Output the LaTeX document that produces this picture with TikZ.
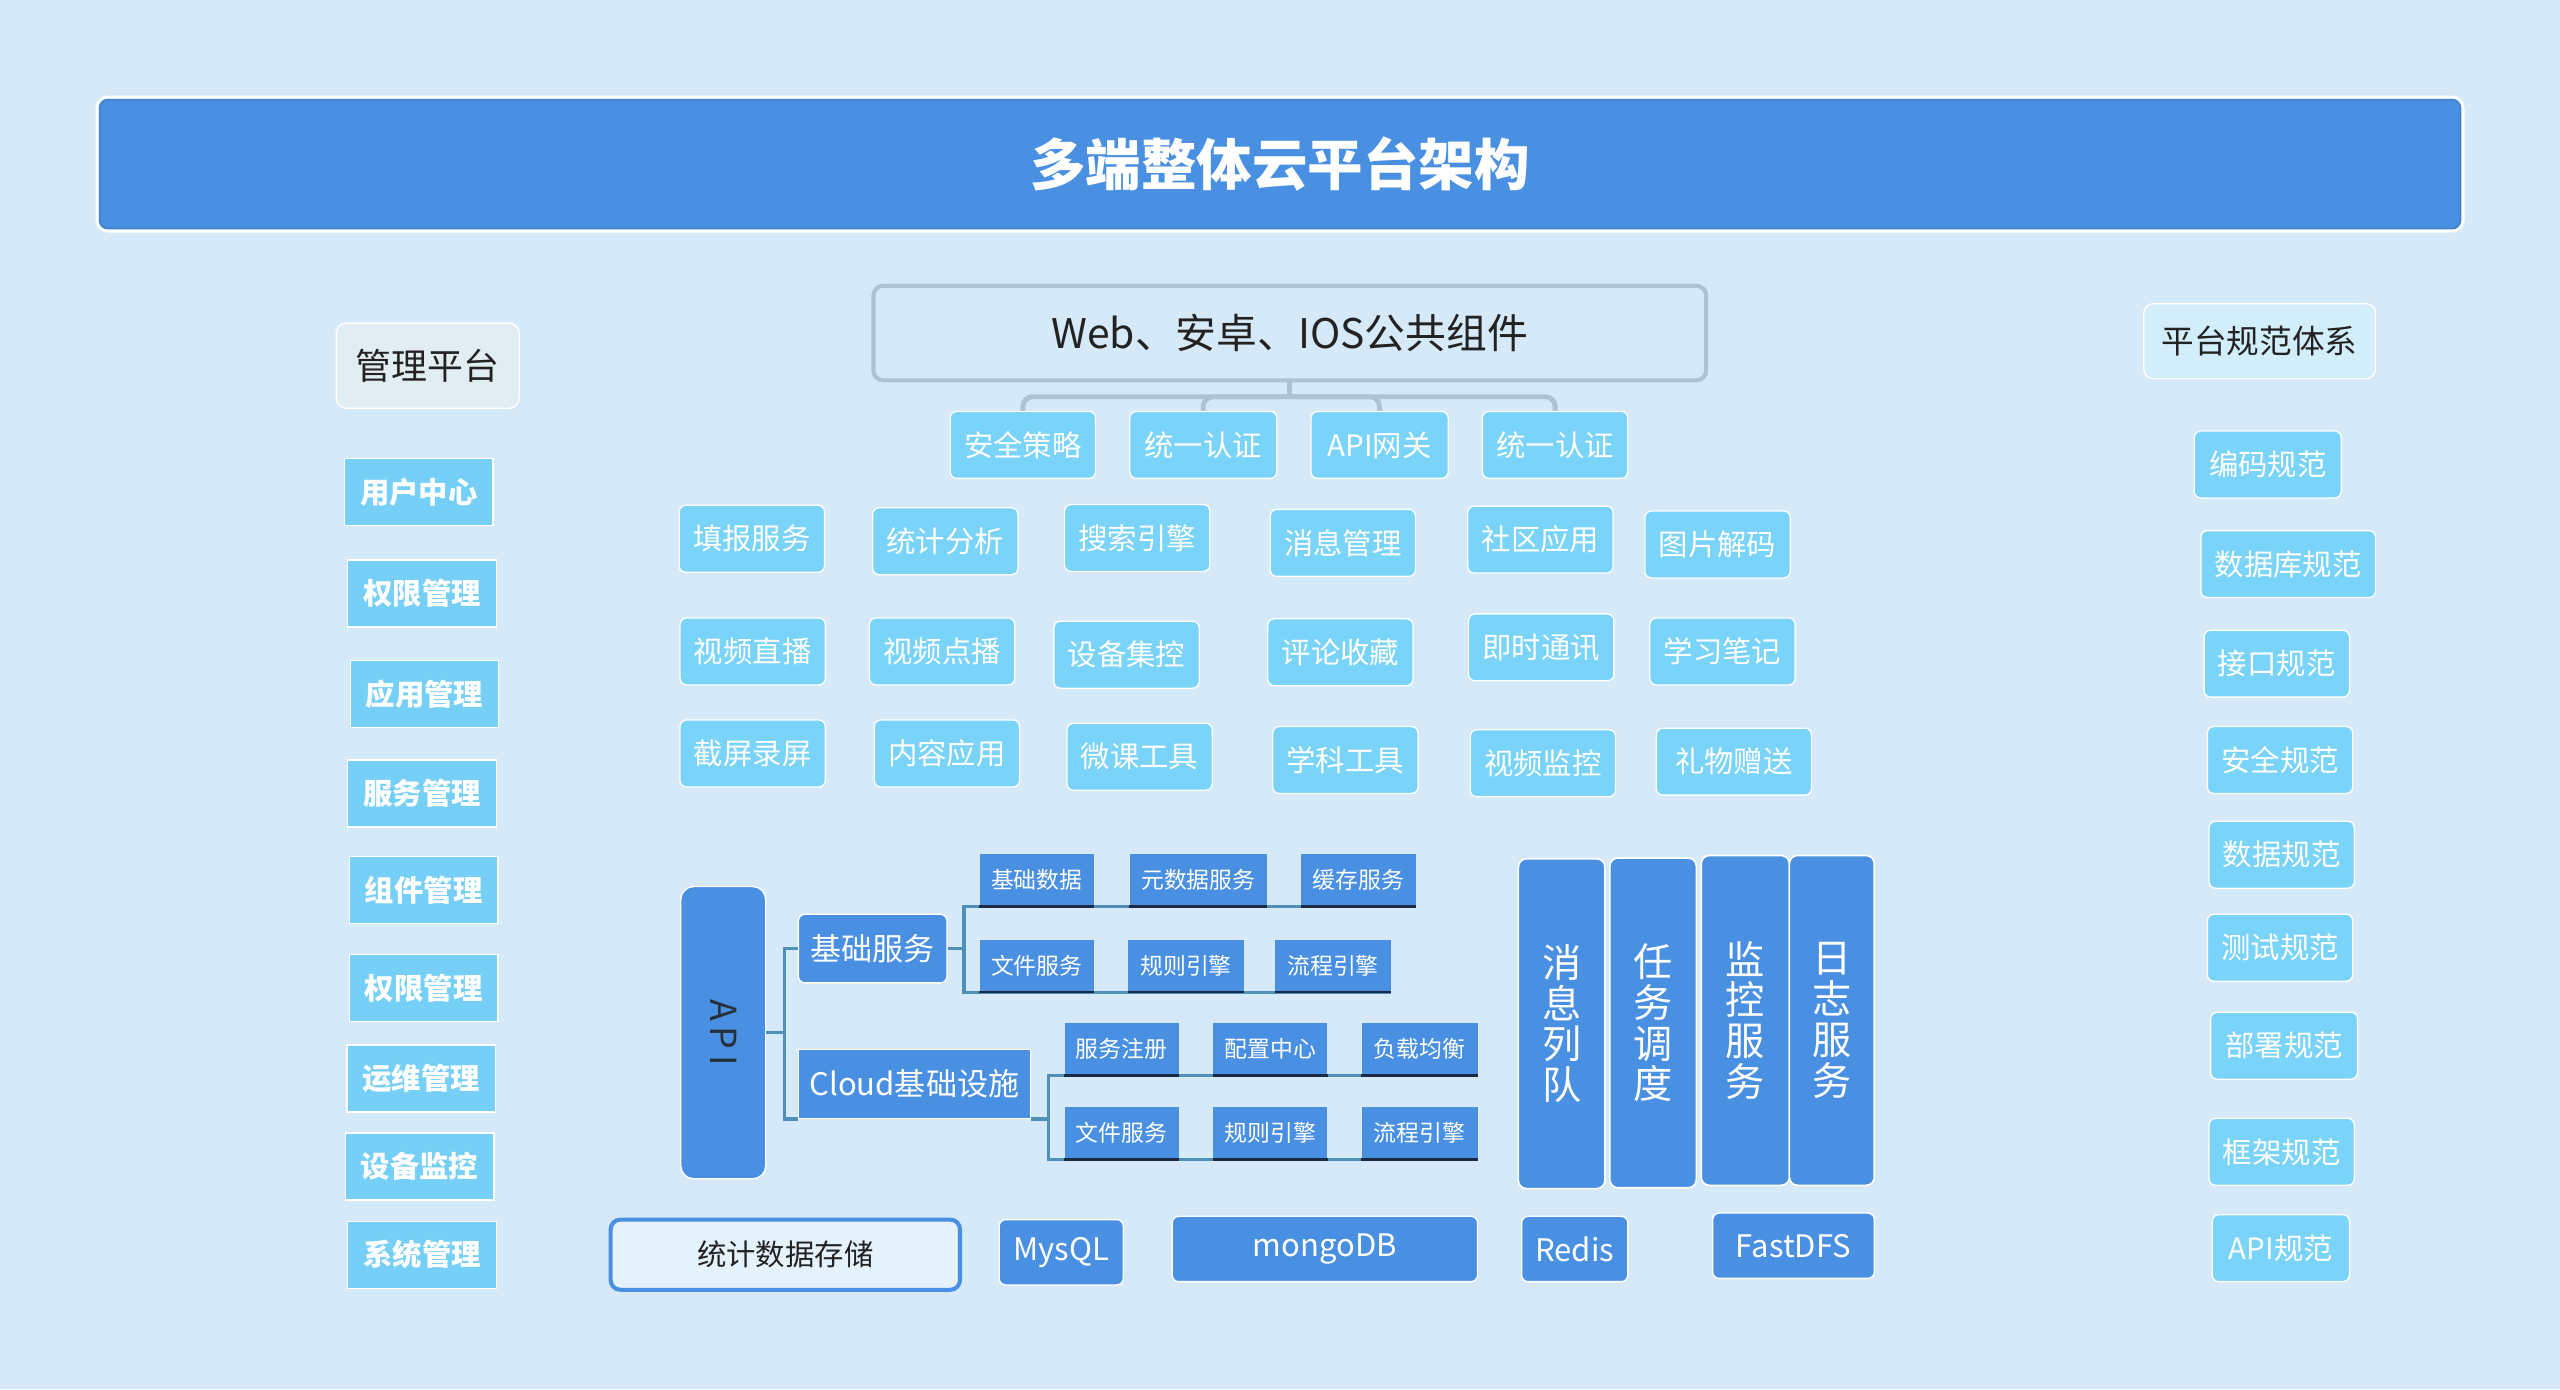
\documentclass[tikz,border=0pt]{standalone}
\usepackage{fontspec}
\setmainfont{Noto Sans CJK SC}
\usepackage{tikz}

\definecolor{bgcol}{HTML}{D6E9F8}
\definecolor{mainblue}{HTML}{4A90E2}
\definecolor{edgeblue}{HTML}{3F80CC}
\definecolor{cyanfill}{HTML}{7AD3F8}
\definecolor{leftfill}{HTML}{76CFF6}
\definecolor{linkcol}{HTML}{5090B8}
\definecolor{treecol}{HTML}{AEC2D2}
\definecolor{grayfill}{HTML}{E2EDF2}
\definecolor{specfill}{HTML}{D3EEFB}
\definecolor{inkcol}{HTML}{222222}
\definecolor{apiink}{HTML}{26303C}
\definecolor{navyline}{HTML}{1B2A44}

\tikzset{
  titlebar/.style={fill=mainblue, draw=edgeblue, line width=1pt, rounded corners=5pt,
    text=white, font=\fontsize{34}{40}\selectfont\bfseries,
    minimum width=1446pt, minimum height=79pt},
  headbox/.style={draw=white, line width=0.8pt, rounded corners=6pt, text=inkcol, inner sep=0pt},
  cyanbox/.style={fill=cyanfill, draw=white, line width=0.8pt, rounded corners=4pt,
    text=white, font=\fontsize{18}{20}\selectfont,
    minimum width=89pt, minimum height=41pt, inner sep=0pt},
  leftbox/.style={fill=leftfill, draw=white, line width=0.8pt,
    text=white, font=\fontsize{18}{20}\selectfont\bfseries,
    minimum width=91pt, minimum height=41pt, inner sep=0pt},
  bluebox/.style={fill=mainblue, draw=white, line width=0.8pt, rounded corners=4pt,
    text=white, font=\fontsize{19}{21}\selectfont, inner sep=0pt},
  smallbox/.style={fill=mainblue, text=white, font=\fontsize{14}{16}\selectfont,
    minimum width=70pt, minimum height=32pt, inner sep=0pt},
  colbox/.style={fill=mainblue, draw=white, line width=1pt, rounded corners=5pt,
    text=white, align=center, font=\fontsize{24}{25}\selectfont,
    minimum width=53pt, minimum height=202pt, inner sep=0pt},
  webbox/.style={draw=treecol, line width=2.5pt, rounded corners=6pt, text=inkcol,
    font=\fontsize{25}{29}\selectfont, minimum width=510pt, minimum height=58pt},
  storebox/.style={fill=bgcol!60!white, draw=mainblue, line width=2.5pt, rounded corners=6pt,
    text=inkcol, font=\fontsize{18}{20}\selectfont,
    minimum width=214pt, minimum height=43pt},
  treelink/.style={draw=treecol, line width=3pt, rounded corners=6pt},
  link/.style={draw=linkcol, line width=2pt},
  boxline/.style={draw=navyline, line width=1.5pt},
}

\begin{document}
\begin{tikzpicture}[x=1pt, y=-1pt]
  \fill[bgcol] (0,0) rectangle (1568,851);
  \useasboundingbox (0,0) rectangle (1568,851);

  % title
  \draw[white, line width=3pt, rounded corners=6pt] (60,60) rectangle (1508,141);
  \node[titlebar] (title) at (784,100.5) {多端整体云平台架构};

  % management platform
  \node[headbox, fill=grayfill, minimum width=112pt, minimum height=52pt,
    font=\fontsize{22}{24}\selectfont] (mgmt) at (262,224) {管理平台};
  \node[leftbox] (m1) at (256.5,301.5) {用户中心};
  \node[leftbox] (m2) at (258.5,363.5) {权限管理};
  \node[leftbox] (m3) at (260,425) {应用管理};
  \node[leftbox] (m4) at (258.5,486) {服务管理};
  \node[leftbox] (m5) at (259.5,545) {组件管理};
  \node[leftbox] (m6) at (259.5,605) {权限管理};
  \node[leftbox] (m7) at (258,660.5) {运维管理};
  \node[leftbox] (m8) at (257,714.5) {设备监控};
  \node[leftbox] (m9) at (258.5,768.5) {系统管理};

  % common components
  \node[webbox] (web) at (790,204) {Web、安卓、IOS公共组件};
  \node[cyanbox] (c1) at (626.5,272.5) {安全策略};
  \node[cyanbox, minimum width=90pt] (c2) at (737,272.5) {统一认证};
  \node[cyanbox, minimum width=84pt] (c3) at (845,272.5) {API网关};
  \node[cyanbox] (c4) at (952.5,272.5) {统一认证};
  \coordinate (hub) at (790,243);
  \draw[treelink] (web.south) -- (hub);
  \foreach \n in {c1,c2,c3,c4}
    \draw[treelink] (hub) -| (\n.north);

  \node[cyanbox] (a1) at (460.5,330) {填报服务};
  \node[cyanbox] (a2) at (579,331.5) {统计分析};
  \node[cyanbox] (a3) at (696.5,329.5) {搜索引擎};
  \node[cyanbox] (a4) at (822.5,332.5) {消息管理};
  \node[cyanbox] (a5) at (943.5,330.5) {社区应用};
  \node[cyanbox] (a6) at (1052,333.5) {图片解码};

  \node[cyanbox] (b1) at (461,399) {视频直播};
  \node[cyanbox] (b2) at (577,399) {视频点播};
  \node[cyanbox] (b3) at (690,401) {设备集控};
  \node[cyanbox] (b4) at (821,399.5) {评论收藏};
  \node[cyanbox] (b5) at (944,396.5) {即时通讯};
  \node[cyanbox] (b6) at (1055,399) {学习笔记};

  \node[cyanbox] (d1) at (461,461.5) {截屏录屏};
  \node[cyanbox] (d2) at (580,461.5) {内容应用};
  \node[cyanbox] (d3) at (698,463.5) {微课工具};
  \node[cyanbox] (d4) at (824,465.5) {学科工具};
  \node[cyanbox] (d5) at (945,467.5) {视频监控};
  \node[cyanbox, minimum width=95pt] (d6) at (1062,466.5) {礼物赠送};

  % api and services
  \node[bluebox, rounded corners=8pt, minimum width=52pt, minimum height=179pt] (api) at (443,632.5) {};
  \node[rotate=-90, text=apiink, font=\fontsize{22}{24}\selectfont] (apitext) at (api.center) {A\,P\,I};
  \node[bluebox, minimum width=91pt, minimum height=42pt] (basic) at (534.5,581) {基础服务};
  \node[bluebox, sharp corners, minimum width=142pt, minimum height=42pt] (cloud) at (560,664) {Cloud基础设施};

  \node[smallbox] (ba1) at (635,539) {基础数据};
  \node[smallbox, minimum width=84pt] (ba2) at (734,539) {元数据服务};
  \node[smallbox] (ba3) at (832,539) {缓存服务};
  \node[smallbox] (bb1) at (635,591.5) {文件服务};
  \node[smallbox, minimum width=71pt] (bb2) at (726.5,591.5) {规则引擎};
  \node[smallbox, minimum width=71pt] (bb3) at (816.5,591.5) {流程引擎};

  \node[smallbox] (ca1) at (687,642.5) {服务注册};
  \node[smallbox] (ca2) at (778,642.5) {配置中心};
  \node[smallbox, minimum width=71pt] (ca3) at (869.5,642.5) {负载均衡};
  \node[smallbox] (cb1) at (687,694) {文件服务};
  \node[smallbox] (cb2) at (778,694) {规则引擎};
  \node[smallbox, minimum width=71pt] (cb3) at (869.5,694) {流程引擎};

  \draw[link] (api.east) -- ++(11,0) |- (basic.west);
  \draw[link] (api.east) -- ++(11,0) |- (cloud.south west);
  \draw[link] (basic.east) -- ++(10,0) |- (ba3.south east);
  \draw[link] (basic.east) -- ++(10,0) |- (bb3.south east);
  \draw[link] (cloud.south east) -- ++(11,0) |- (ca3.south east);
  \draw[link] (cloud.south east) -- ++(11,0) |- (cb3.south east);
  \foreach \n in {ba1,ba2,ba3,bb1,bb2,bb3,ca1,ca2,ca3,cb1,cb2,cb3}
    \draw[boxline] (\n.south west) -- (\n.south east);

  % columns
  \node[colbox] (queue) at (956.5,627) {消\\息\\列\\队};
  \node[colbox] (task) at (1012.5,626.5) {任\\务\\调\\度};
  \node[colbox, minimum width=54pt] (monitor) at (1069,625) {监\\控\\服\\务};
  \node[colbox, minimum width=52pt] (logsrv) at (1122,625) {日\\志\\服\\务};

  % storage
  \node[storebox] (stat) at (481,768.5) {统计数据存储};
  \node[bluebox, minimum width=76pt, minimum height=40pt] (mysql) at (650,767) {MysQL};
  \node[bluebox, minimum width=187pt, minimum height=40pt] (mongo) at (811.5,765) {mongoDB};
  \node[bluebox, minimum width=65pt, minimum height=40pt] (redis) at (964.5,765) {Redis};
  \node[bluebox, minimum width=99pt, minimum height=40pt] (fastdfs) at (1098.5,763) {FastDFS};

  % platform specs
  \node[headbox, fill=specfill, minimum width=142pt, minimum height=46pt,
    font=\fontsize{20}{22}\selectfont] (spec) at (1384,209) {平台规范体系};
  \node[cyanbox, minimum width=90pt] (s1) at (1389,284.5) {编码规范};
  \node[cyanbox, minimum width=107pt] (s2) at (1401.5,345.5) {数据库规范};
  \node[cyanbox] (s3) at (1394.5,406.5) {接口规范};
  \node[cyanbox] (s4) at (1396.5,465.5) {安全规范};
  \node[cyanbox] (s5) at (1397.5,523.5) {数据规范};
  \node[cyanbox] (s6) at (1396.5,580.5) {测试规范};
  \node[cyanbox, minimum width=90pt] (s7) at (1399,640.5) {部署规范};
  \node[cyanbox] (s8) at (1397.5,705.5) {框架规范};
  \node[cyanbox, minimum width=84pt] (s9) at (1397,764.5) {API规范};
\end{tikzpicture}
\end{document}
